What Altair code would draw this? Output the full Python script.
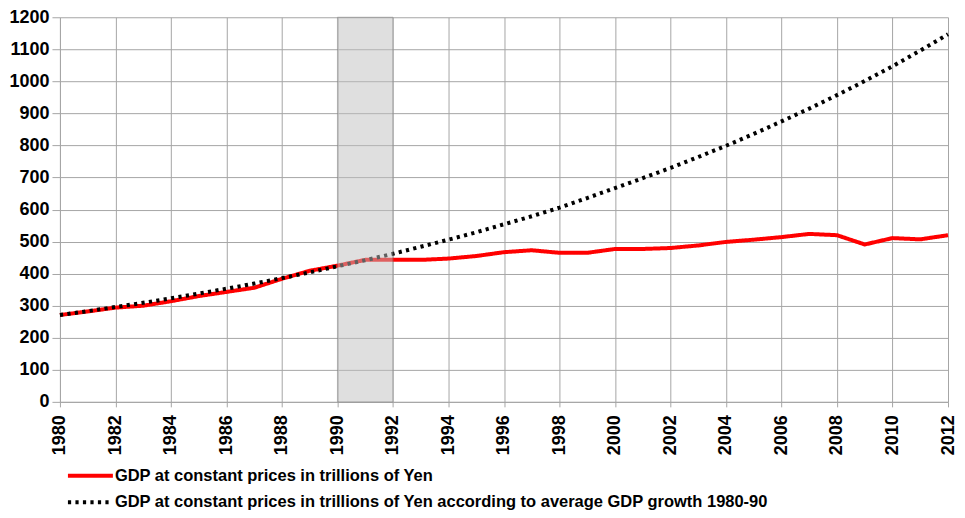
import altair as alt
import pandas as pd

years = list(range(1980, 2013))
gdp = [271, 282, 294, 300, 314, 330, 343, 356, 384, 409,
       425, 443, 443, 443, 447, 455, 467, 473, 465, 465,
       477, 477, 480, 488, 499, 506, 514, 524, 520, 491,
       511, 507, 520]
trend = [271, 283, 296, 309, 323, 338, 353, 369, 386, 404,
         423, 442, 462, 484, 506, 529, 554, 579, 606, 636,
         667, 698, 730, 764, 799, 836, 875, 915, 957, 1001,
         1047, 1096, 1147]
series_names = [
    "GDP at constant prices in trillions of Yen",
    "GDP at constant prices in trillions of Yen according to average GDP growth 1980-90",
]
series_colors = ["#ff0000", "#000000"]
x_ticks = list(range(1980, 2013, 2))
y_ticks = list(range(0, 1201, 100))
shade_start = [1990]
shade_end = [1992]
shade_low = [0]
shade_high = [1200]

df = pd.DataFrame({
    "year": years + years,
    "value": gdp + trend,
    "series": [series_names[0]] * len(years) + [series_names[1]] * len(years),
})
shade = pd.DataFrame({"start": shade_start, "end": shade_end,
                      "low": shade_low, "high": shade_high})

W, H = 889, 385
FONT = "Liberation Sans"

xscale = alt.Scale(domain=[1980, 2012], nice=False, zero=False)
yscale = alt.Scale(domain=[0, 1200], nice=False)

x_axis = alt.Axis(values=x_ticks, format="d", title=None, labelAngle=270,
                  tickSize=5, labelPadding=8, labelFontSize=18, labelOverlap=False)
y_axis = alt.Axis(values=y_ticks, format="d", title=None,
                  tickSize=8, labelPadding=3, labelFontSize=18, labelOverlap=False)

legend = alt.Legend(
    title=None, orient="none", legendX=36.5, legendY=450.75,
    direction="vertical", symbolType="M-6.125,0H1.375", symbolSize=144,
    symbolStrokeWidth=4, labelFontSize=16.5, labelFontWeight="bold",
    labelFont=FONT, labelColor="#000000", labelLimit=1000, labelOffset=2,
    rowPadding=9.5, padding=0,
)

lines = alt.Chart(df).mark_line(strokeWidth=4, strokeCap="butt", strokeJoin="round").encode(
    x=alt.X("year:Q", scale=xscale, axis=x_axis),
    y=alt.Y("value:Q", scale=yscale, axis=y_axis),
    color=alt.Color("series:N", scale=alt.Scale(domain=series_names, range=series_colors),
                    legend=legend),
    strokeDash=alt.StrokeDash("series:N",
                              scale=alt.Scale(domain=series_names, range=[[1, 0], [3.2, 4.3]]),
                              legend=legend),
)

rect = alt.Chart(shade).mark_rect(fill="#c0c0c0", opacity=0.5, stroke="#7a7a7a",
                                  strokeWidth=1).encode(
    x=alt.X("start:Q", scale=xscale, axis=x_axis),
    x2="end:Q",
    y=alt.Y("low:Q", scale=yscale, axis=y_axis),
    y2="high:Q",
)

chart = alt.layer(lines, rect).properties(
    width=W, height=H, padding=0, background="#ffffff"
).configure_view(
    strokeWidth=0
).configure_axis(
    gridColor="#a6a6a6", gridWidth=1, gridOpacity=1,
    domainColor="#a6a6a6", tickColor="#a6a6a6",
    labelColor="#000000", labelFont=FONT, labelFontWeight="bold",
)

chart.save("out.html", embed_options={"renderer": "svg", "actions": False})
